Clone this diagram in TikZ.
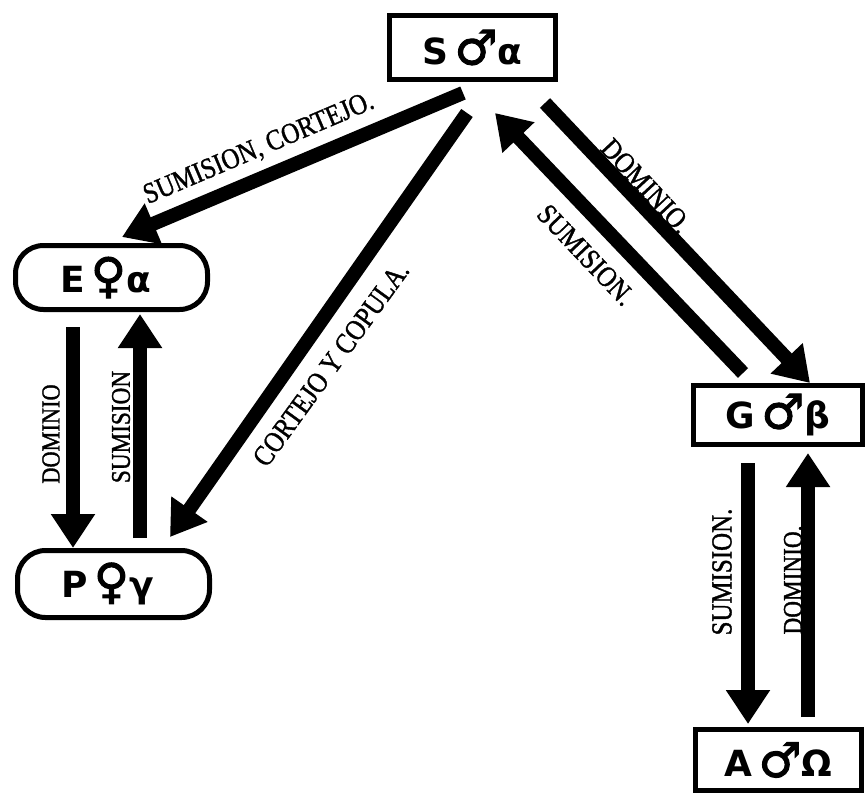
\documentclass[tikz,border=0pt]{standalone}
\usepackage{fontspec}
\setmainfont{Liberation Serif}[FakeStretch=0.86,FakeBold=1.2]
\newfontfamily\boxfont{DejaVu Sans}
\newfontfamily\symfont{DejaVu Sans}[FakeBold=2]
\usetikzlibrary{arrows.meta,calc}
\newcommand{\msym}[1]{{\symfont\mdseries\fontsize{48}{48}\selectfont #1}}
\begin{document}
\begin{tikzpicture}[x=1pt,y=-1pt,
  box/.style={draw, line width=5pt, inner sep=0pt,
    font=\boxfont\bfseries\fontsize{36}{40}\selectfont},
  rbox/.style={box, rounded corners=28pt},
  arr/.style={line width=14pt, -{Triangle[length=34pt,width=42pt]}},
  lbl/.style={font=\fontsize{29}{30}\selectfont, inner sep=0pt}]

\useasboundingbox (0,0) rectangle (866,795);
\fill[white] (0,0) rectangle (866,795);

% nodes
\node[box, minimum width=166pt, minimum height=64pt] (s) at (472.5,47.5) {S\,\msym{♂}α};
\node[rbox, minimum width=192pt, minimum height=64pt] (e) at (111.5,277.5) {E\,\msym{♀}α\kern12pt};
\node[rbox, minimum width=192pt, minimum height=67pt] (p) at (113.5,584) {P\,\msym{♀}γ\kern12pt};
\node[box, minimum width=169pt, minimum height=59pt] (g) at (778,415) {G\,\msym{♂}β};
\node[box, minimum width=166pt, minimum height=61pt] (a) at (778.5,760) {A\,\msym{♂}Ω};

% connectors
\draw[arr] ($(s.south)+(-9.5,11)$) -- ($(e.north)+(10.5,-6)$);
\draw[arr] ($(s.south)+(-5.5,31)$) -- ($(p.north)+(56.5,-11)$);
\draw[arr] ($(g.north)+(-35,-10)$) -- ($(s.south)+(22.5,31)$);
\draw[arr] ($(s.south)+(72.5,21)$) -- ($(g.north)+(32,0)$);
\draw[arr] ($(e.south)+(-38.5,15)$) -- ($(p.north)+(-40.5,0)$);
\draw[arr] ($(p.north)+(26.5,-10)$) -- ($(e.south)+(28.5,2)$);
\draw[arr] ($(g.south)+(-30,16)$) -- ($(a.north)+(-30.5,-3)$);
\draw[arr] ($(a.north)+(29.5,-10)$) -- ($(g.south)+(30,6)$);

% labels
\node[lbl, rotate=23] (l1) at (259,149) {SUMISION, CORTEJO.};
\node[lbl, rotate=54] (l2) at (331,364) {CORTEJO Y COPULA.};
\node[lbl, rotate=-46.5] (l3) at (586,255) {SUMISION.};
\node[lbl, rotate=-47] (l4) at (646,186) {DOMINIO.};
\node[lbl, rotate=90, font=\fontsize{26}{28}\selectfont] (l5) at (51,434) {DOMINIO};
\node[lbl, rotate=90, font=\fontsize{27}{28}\selectfont] (l6) at (121,427) {SUMISION};
\node[lbl, rotate=90] (l7) at (722,572) {SUMISION.};
\node[lbl, rotate=90, font=\fontsize{27}{28}\selectfont] (l8) at (793,580) {DOMINIO.};
\end{tikzpicture}
\end{document}
